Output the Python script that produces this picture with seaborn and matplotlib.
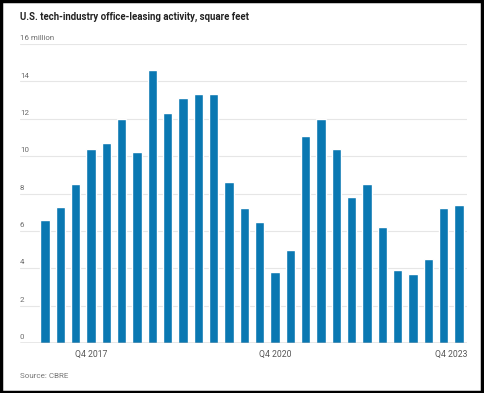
import matplotlib
matplotlib.use("Agg")
import matplotlib.pyplot as plt
import matplotlib.transforms as mtransforms
import seaborn as sns
import pandas as pd

# Quarterly leasing activity, Q1 2017 - Q4 2023 (million sq ft)
quarters = [f"Q{q} {y}" for y in range(2017, 2024) for q in range(1, 5)]
values = [6.6, 7.3, 8.5, 10.4, 10.7, 12.0, 10.2, 14.6,
          12.3, 13.1, 13.3, 13.3, 8.6, 7.2, 6.5, 3.8,
          5.0, 11.1, 12.0, 10.4, 7.8, 8.5, 6.2, 3.9,
          3.7, 4.5, 7.2, 7.4]
shown_ticks = ["Q4 2017", "Q4 2020", "Q4 2023"]
y_ticks = [0, 2, 4, 6, 8, 10, 12, 14, 16]
y_labels = ["0", "2", "4", "6", "8", "10", "12", "14", "16 million"]

df = pd.DataFrame({"quarter": quarters, "value": values})

sns.set_theme(style="white")
plt.rcParams["font.family"] = ["Roboto", "DejaVu Sans"]

W, H = 484, 393
fig = plt.figure(figsize=(W / 100, H / 100), dpi=100)
ax = fig.add_axes([20 / W, 1 - 343 / H, 447 / W, 299 / H])

sns.barplot(data=df, x="quarter", y="value", color="#0a78b2", width=0.6,
            saturation=1, ax=ax)

ax.set_xlim(-1.63, 27.52)
ax.set_ylim(0, 16)
for s in ax.spines.values():
    s.set_visible(False)

for t in y_ticks:
    ax.axhline(t, color="#e6e6e6" if t else "#8c8c8c", lw=0.8 if t else 1.0,
               zorder=0 if t else 3)
trans = mtransforms.blended_transform_factory(ax.transAxes, ax.transData)
for t, lab in zip(y_ticks, y_labels):
    ax.text(0, t + 0.15, lab, transform=trans, ha="left", va="bottom",
            fontsize=5.7, color="#6b6b6b")
ax.set_yticks([])

idx = [quarters.index(q) for q in shown_ticks]
ax.set_xticks(idx)
ax.set_xticklabels(shown_ticks, fontsize=6.2, color="#555555")
ax.tick_params(axis="x", length=0, pad=5)
ax.set_xlabel("")
ax.set_ylabel("")
# last label is right-aligned with the end of the plot area
last = ax.get_xticklabels()[-1]
last.set_ha("right")
last.set_transform(last.get_transform() +
                   mtransforms.ScaledTranslation(0.08, 0, fig.dpi_scale_trans))

fig.text(20 / W, 1 - 17 / H, "U.S. tech-industry office-leasing activity, square feet",
         fontsize=6.9, fontweight="bold", color="#222222", ha="left", va="center")
fig.text(20 / W, 1 - 376 / H, "Source: CBRE", fontsize=5.8, color="#777777",
         ha="left", va="center")

# black frame around the picture
fig.patches.append(plt.Rectangle((0.002, 0.003), 0.994, 0.994, transform=fig.transFigure,
                                 fill=False, edgecolor="black", lw=2.5))

fig.savefig("out.png", dpi=100)
